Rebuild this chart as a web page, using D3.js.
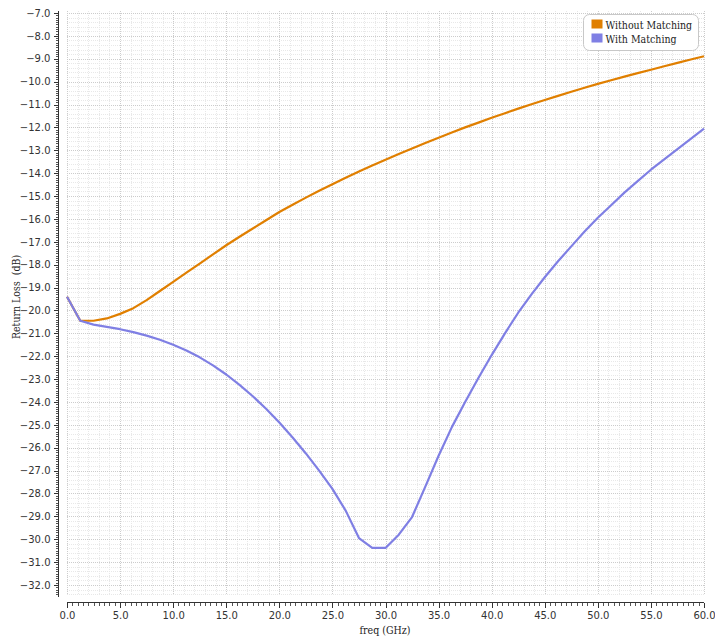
<!DOCTYPE html>
<html>
<head>
<meta charset="utf-8">
<script src="https://cdn.jsdelivr.net/npm/d3@7"></script>
<style>
  html, body { margin: 0; padding: 0; background: #fff; }
  svg { display: block; }
  .serif { font-family: "DejaVu Serif Condensed", "DejaVu Serif", serif; font-stretch: condensed; font-size: 10.5px; }
  .tick text { font-family: "DejaVu Sans", sans-serif; font-size: 10px; }
</style>
</head>
<body>
<svg id="chart" width="715" height="638"></svg>
<script>
// Frequency sweep (GHz), sampled every 1.25 GHz
const freq = d3.range(0, 60.0001, 1.25);

// Return loss without matching network (dB)
const withoutMatching = [
  -19.40, -20.45, -20.45, -20.35, -20.15, -19.90, -19.55, -19.15, -18.75, -18.35,
  -17.95, -17.55, -17.15, -16.78, -16.42, -16.06, -15.70, -15.38, -15.07, -14.77,
  -14.48, -14.20, -13.93, -13.67, -13.41, -13.16, -12.92, -12.68, -12.45, -12.22,
  -12.00, -11.79, -11.58, -11.38, -11.18, -10.99, -10.80, -10.62, -10.44, -10.27,
  -10.10, -9.94, -9.78, -9.63, -9.48, -9.33, -9.18, -9.03, -8.89
];

// Return loss with matching network (dB)
const withMatching = [
  -19.40, -20.45, -20.62, -20.72, -20.82, -20.95, -21.10, -21.28, -21.50, -21.75,
  -22.05, -22.40, -22.80, -23.25, -23.75, -24.30, -24.90, -25.55, -26.25, -27.00,
  -27.80, -28.75, -29.95, -30.38, -30.38, -29.80, -29.03, -27.70, -26.35, -25.10,
  -24.00, -22.95, -21.95, -21.00, -20.10, -19.30, -18.55, -17.85, -17.20, -16.55,
  -15.95, -15.40, -14.85, -14.35, -13.85, -13.40, -12.95, -12.50, -12.05
];

const seriesNames = ["Without Matching", "With Matching"];
const seriesColors = ["#e07f00", "#7f7fe4"];

// Axis ticks
const xTickValues = d3.range(0, 60.0001, 5);
const yTickValues = d3.range(-32, -6.9999, 1);

const svg = d3.select("#chart");

const plot = { left: 67, right: 704, top: 11, bottom: 595 };
const x = d3.scaleLinear().domain([0, 60]).range([plot.left, plot.right]);
const y = d3.scaleLinear().domain([-32, -7]).range([585, 13]);
const yMin = y.invert(plot.bottom), yMax = y.invert(plot.top);

// Grid: minor (1 GHz / 0.2 dB) and major (5 GHz / 1 dB), dotted
const grid = svg.append("g").attr("shape-rendering", "crispEdges");
const xMinor = d3.range(0, 60.0001, 1).filter(v => v % 5 !== 0);
const yMinor = d3.range(-32.4, -6.9, 0.2).filter(v => Math.abs(v - Math.round(v)) > 1e-6);
const minorColor = "#e8e8e8", majorColor = "#cccccc";
grid.selectAll("line.xmin").data(xMinor).join("line")
  .attr("x1", d => Math.round(x(d)) + 0.5).attr("x2", d => Math.round(x(d)) + 0.5)
  .attr("y1", plot.top).attr("y2", plot.bottom)
  .attr("stroke", minorColor).attr("stroke-dasharray", "1,1");
grid.selectAll("line.ymin").data(yMinor).join("line")
  .attr("y1", d => Math.round(y(d)) + 0.5).attr("y2", d => Math.round(y(d)) + 0.5)
  .attr("x1", plot.left).attr("x2", plot.right)
  .attr("stroke", minorColor).attr("stroke-dasharray", "1,1");
grid.selectAll("line.xmaj").data(xTickValues).join("line")
  .attr("x1", d => Math.round(x(d)) + 0.5).attr("x2", d => Math.round(x(d)) + 0.5)
  .attr("y1", plot.top).attr("y2", plot.bottom)
  .attr("stroke", majorColor).attr("stroke-dasharray", "1,1");
grid.selectAll("line.ymaj").data(yTickValues).join("line")
  .attr("y1", d => Math.round(y(d)) + 0.5).attr("y2", d => Math.round(y(d)) + 0.5)
  .attr("x1", plot.left).attr("x2", plot.right)
  .attr("stroke", majorColor).attr("stroke-dasharray", "1,1");

// Curves
const line = d3.line().x((d, i) => x(freq[i])).y(d => y(d));
[withoutMatching, withMatching].forEach((vals, k) => {
  svg.append("path").datum(vals)
    .attr("d", line)
    .attr("fill", "none")
    .attr("stroke", seriesColors[k])
    .attr("stroke-width", 2.2)
    .attr("stroke-linejoin", "round");
});

// Y axis (detached, left of plot)
const yAxisX = 58;
const yAxisG = svg.append("g").attr("transform", `translate(${yAxisX + 0.5},0)`);
yAxisG.append("g")
  .call(d3.axisLeft(y).tickValues(d3.range(-32.4, -6.9, 0.1)).tickSize(3).tickFormat(""))
  .call(g => g.select(".domain").remove())
  .call(g => g.selectAll("line").attr("stroke", "#555").attr("shape-rendering", "crispEdges"));
yAxisG.append("g")
  .call(d3.axisLeft(y).tickValues(yTickValues).tickSize(5).tickFormat(d3.format(".1f")).tickPadding(3))
  .call(g => g.select(".domain").remove())
  .call(g => g.selectAll("line").attr("stroke", "#333").attr("shape-rendering", "crispEdges"))
  .call(g => g.selectAll("text").attr("fill", "#333"));
yAxisG.append("line").attr("x1", 0).attr("x2", 0).attr("y1", plot.top).attr("y2", plot.bottom + 2)
  .attr("stroke", "#333").attr("shape-rendering", "crispEdges");

// X axis (detached, below plot)
const xAxisY = 602;
const xAxisG = svg.append("g").attr("transform", `translate(0,${xAxisY + 0.5})`);
xAxisG.append("g")
  .call(d3.axisBottom(x).tickValues(d3.range(0, 60.0001, 0.5)).tickSize(3).tickFormat(""))
  .call(g => g.select(".domain").remove())
  .call(g => g.selectAll("line").attr("stroke", "#555").attr("shape-rendering", "crispEdges"));
xAxisG.append("g")
  .call(d3.axisBottom(x).tickValues(xTickValues).tickSize(5).tickFormat(d3.format(".1f")).tickPadding(4))
  .call(g => g.select(".domain").remove())
  .call(g => g.selectAll("line").attr("stroke", "#333").attr("shape-rendering", "crispEdges"))
  .call(g => g.selectAll("text").attr("fill", "#333"));
xAxisG.append("line").attr("x1", plot.left).attr("x2", plot.right).attr("y1", 0).attr("y2", 0)
  .attr("stroke", "#333").attr("shape-rendering", "crispEdges");

// Axis titles
svg.append("text").attr("class", "serif")
  .attr("x", 385).attr("y", 634)
  .attr("text-anchor", "middle").attr("fill", "#222")
  .text("freq (GHz)");
svg.append("text").attr("class", "serif")
  .attr("transform", `translate(20,297) rotate(-90)`)
  .attr("text-anchor", "middle").attr("fill", "#222")
  .style("white-space", "pre")
  .text("Return Loss  (dB)");

// Legend
const legend = svg.append("g").attr("transform", "translate(583.5,14.5)");
legend.append("rect").attr("width", 115).attr("height", 36).attr("rx", 6)
  .attr("fill", "#fff").attr("stroke", "#c8c8c8");
seriesNames.forEach((name, i) => {
  const row = legend.append("g").attr("transform", `translate(8,${5 + i * 14})`);
  row.append("rect").attr("width", 11).attr("height", 9).attr("fill", seriesColors[i]);
  row.append("text").attr("class", "serif").attr("x", 14).attr("y", 9)
    .attr("fill", "#222").text(name);
});
</script>
</body>
</html>
